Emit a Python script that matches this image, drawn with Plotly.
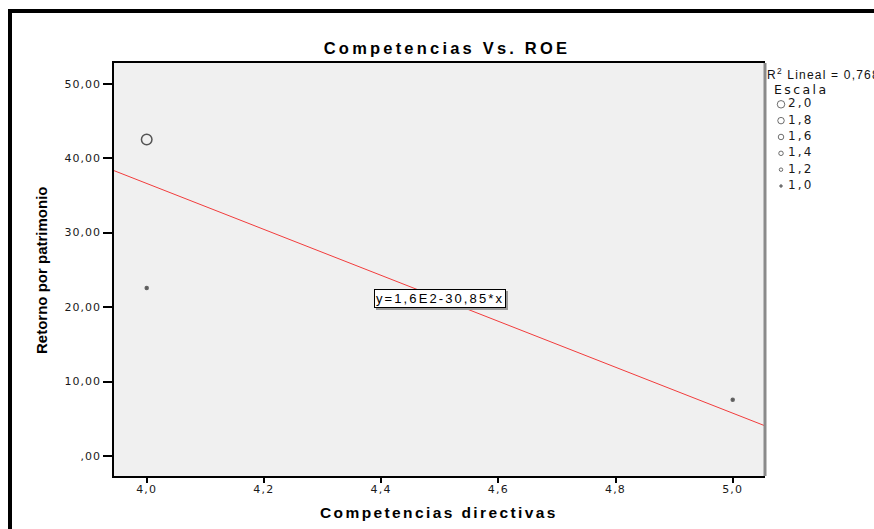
import plotly.graph_objects as go

# Observaciones: competencias directivas, retorno por patrimonio y variable de escala
competencias = [4.0, 4.0, 5.0]
retorno = [42.5, 22.55, 7.55]
escala = [2.0, 1.0, 1.0]

# Ajuste lineal mostrado en el gráfico
intercepto = 160.0
pendiente = -30.85
r2_texto = "0,768"

# Niveles de la leyenda de escala
escala_niveles = [2.0, 1.8, 1.6, 1.4, 1.2, 1.0]

x_ticks = [4.0, 4.2, 4.4, 4.6, 4.8, 5.0]
y_ticks = [0, 10, 20, 30, 40, 50]

X_RANGE = [3.9442, 5.0551]
Y_RANGE = [-2.69, 52.78]

W, H = 874, 529
ML, MR, MT, MB = 114, 0, 63, 53
PW = W - ML - MR
PH = H - MT - MB
MAIN_W = 651

FONT = "Liberation Sans, Arial, sans-serif"
WIDE = "DejaVu Sans, Verdana, sans-serif"


def esp(texto, px):
    return f'<span style="letter-spacing:{px}px">{texto}</span>'


def coma(v, dec):
    s = f"{v:.{dec}f}".replace(".", ",")
    if s.startswith("0,"):
        s = s[1:]
    return s


def px_x(p):
    return (p - ML) / PW


def px_y(p):
    return (H - MB - p) / PH


fig = go.Figure()

# Recta de regresión a lo largo de todo el eje X
xr = list(X_RANGE)
fig.add_trace(go.Scatter(
    x=xr, y=[intercepto + pendiente * v for v in xr],
    mode="lines", line=dict(color="#f23c3c", width=1),
    hoverinfo="skip", showlegend=False,
))

# Puntos con tamaño según la escala (los de escala mínima se ven como puntos llenos)
fig.add_trace(go.Scatter(
    x=competencias, y=retorno, mode="markers",
    marker=dict(symbol=["circle-open" if e > 1.3 else "circle" for e in escala],
                size=[3 + (e - 1) * 7.5 for e in escala],
                color="#111", line=dict(color="#2a2a2a", width=1.5)),
    showlegend=False,
))

# Leyenda de escala dibujada en su propio par de ejes
fig.add_trace(go.Scatter(
    x=[16] * len(escala_niveles), y=escala_niveles, mode="markers",
    xaxis="x2", yaxis="y2",
    marker=dict(symbol=["circle-open" if e > 1.1 else "circle" for e in escala_niveles],
                size=[2.5 + (e - 1) * 5 for e in escala_niveles],
                color="#333", line=dict(color="#333", width=1)),
    showlegend=False, hoverinfo="skip",
))
fig.add_trace(go.Scatter(
    x=[23] * len(escala_niveles), y=escala_niveles, mode="text",
    xaxis="x2", yaxis="y2",
    text=[esp(coma(e, 1), 2.2) for e in escala_niveles],
    textposition="middle right",
    textfont=dict(family=WIDE, size=12, color="#1a1a1a"),
    showlegend=False, hoverinfo="skip", cliponaxis=False,
))

shapes = [
    # fondo gris del área de trazado
    dict(type="rect", xref="x domain", yref="y domain", x0=0, x1=1, y0=0, y1=1,
         fillcolor="#f0f0f0", line=dict(width=0), layer="below"),
    # borde derecho del área de trazado
    dict(type="line", xref="x domain", yref="y domain", x0=1, x1=1, y0=0, y1=1,
         line=dict(color="#8a8a8a", width=3)),
    # marco exterior
    dict(type="rect", xref="paper", yref="paper",
         x0=px_x(10), x1=px_x(884), y0=px_y(540), y1=px_y(11),
         line=dict(color="black", width=4), fillcolor="rgba(0,0,0,0)"),
]

eq_text = esp("y=1,6E2-30,85*x", 2.1)
annotations = [
    dict(x=4.5, y=21.15, xref="x", yref="y", text=eq_text, showarrow=False,
         font=dict(family=FONT, size=13, color="rgba(0,0,0,0)"),
         bgcolor="#9a9a9a", bordercolor="#9a9a9a", borderwidth=1, borderpad=1,
         xshift=2, yshift=-2),
    dict(x=4.5, y=21.15, xref="x", yref="y", text=eq_text, showarrow=False,
         font=dict(family=FONT, size=13, color="black"),
         bgcolor="white", bordercolor="black", borderwidth=1, borderpad=1),
    dict(x=px_x(439), y=px_y(512), xref="paper", yref="paper",
         text=esp("<b>Competencias directivas</b>", 2.4), showarrow=False,
         xanchor="center", yanchor="middle",
         font=dict(family=FONT, size=15.5, color="black")),
    dict(x=px_x(41), y=px_y(270), xref="paper", yref="paper",
         text="<b>Retorno por patrimonio</b>", showarrow=False, textangle=-90,
         xanchor="center", yanchor="middle",
         font=dict(family=FONT, size=15, color="black")),
    dict(x=px_x(765), y=px_y(74), xref="paper", yref="paper",
         text=esp(f"R<sup>2</sup> Lineal = {r2_texto}", 1.2), showarrow=False,
         xanchor="left", yanchor="middle",
         font=dict(family=FONT, size=12, color="#111")),
    dict(x=px_x(772), y=px_y(89), xref="paper", yref="paper",
         text=esp("Escala", 2.4), showarrow=False,
         xanchor="left", yanchor="middle",
         font=dict(family=WIDE, size=12.5, color="#111")),
]

# Escala de la leyenda: 2,0 a 104 px y 1,0 a 186 px desde arriba
ley_unidad = (186 - 104.3) / 1.0
y2_top = 1.0 + (186 - MT) / ley_unidad
y2_bot = 1.0 - (H - MB - 186) / ley_unidad

fig.update_layout(
    width=W, height=H,
    margin=dict(l=ML, r=MR, t=MT, b=MB, pad=0),
    paper_bgcolor="white", plot_bgcolor="white",
    title=dict(text=esp("<b>Competencias Vs. ROE</b>", 3.2), x=447 / W, xref="container",
               xanchor="center", y=1 - 48 / H, yanchor="middle",
               font=dict(family=FONT, size=16.5, color="black")),
    xaxis=dict(domain=[0, MAIN_W / PW], range=X_RANGE, tickvals=x_ticks,
               ticktext=[esp(coma(v, 1), 1.2) for v in x_ticks],
               ticks="outside", ticklen=5, tickwidth=1.5, tickcolor="black",
               ticklabelstandoff=-3,
               showline=True, linecolor="black", linewidth=1.5, mirror=True,
               showgrid=False, zeroline=False,
               tickfont=dict(family=WIDE, size=11, color="#1a1a1a")),
    yaxis=dict(domain=[0, 1], range=Y_RANGE, tickvals=y_ticks,
               ticktext=[esp(coma(v, 2), 1.0) for v in y_ticks],
               ticks="outside", ticklen=9, tickwidth=1.5, tickcolor="black",
               showline=True, linecolor="black", linewidth=1.5,
               showgrid=False, zeroline=False,
               tickfont=dict(family=WIDE, size=11, color="#1a1a1a")),
    xaxis2=dict(domain=[MAIN_W / PW, 1], range=[0, W - ML - MAIN_W], anchor="y2",
                visible=False, fixedrange=True),
    yaxis2=dict(domain=[0, 1], range=[y2_bot, y2_top], anchor="x2",
                visible=False, fixedrange=True),
    shapes=shapes, annotations=annotations,
    showlegend=False,
)

fig.write_html("out.html")
